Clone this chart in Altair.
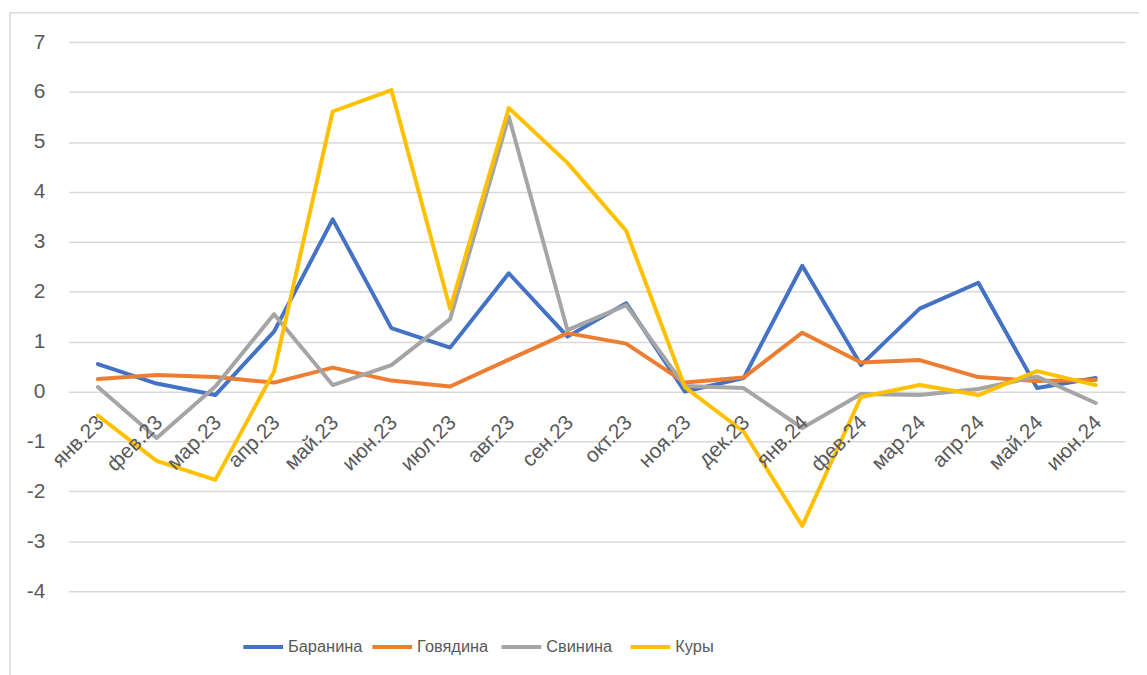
import altair as alt
import pandas as pd

months = ["янв.23", "фев.23", "мар.23", "апр.23", "май.23", "июн.23", "июл.23",
          "авг.23", "сен.23", "окт.23", "ноя.23", "дек.23", "янв.24", "фев.24",
          "мар.24", "апр.24", "май.24", "июн.24"]

series_names = ["Баранина", "Говядина", "Свинина", "Куры"]
colors = ["#4472C4", "#ED7D31", "#A5A5A5", "#FFC000"]

baranina = [0.55, 0.16, -0.07, 1.2, 3.45, 1.27, 0.88, 2.37, 1.1, 1.77,
            0.0, 0.27, 2.52, 0.53, 1.66, 2.18, 0.07, 0.27]
govyadina = [0.25, 0.33, 0.29, 0.18, 0.48, 0.22, 0.10, 0.64, 1.17, 0.96,
             0.18, 0.28, 1.18, 0.58, 0.63, 0.29, 0.21, 0.23]
svinina = [0.09, -0.93, 0.1, 1.55, 0.13, 0.53, 1.45, 5.51, 1.23, 1.73,
           0.11, 0.07, -0.73, -0.05, -0.07, 0.05, 0.3, -0.23]
kury = [-0.48, -1.39, -1.77, 0.4, 5.61, 6.04, 1.66, 5.68, 4.58, 3.22,
        0.09, -0.8, -2.69, -0.11, 0.13, -0.07, 0.41, 0.13]

y_ticks = [-4, -3, -2, -1, 0, 1, 2, 3, 4, 5, 6, 7]

rows = []
for name, vals in zip(series_names, [baranina, govyadina, svinina, kury]):
    for i, (m, v) in enumerate(zip(months, vals)):
        rows.append({"month": m, "series": name, "value": v, "order": i})
df = pd.DataFrame(rows)
lab_df = pd.DataFrame({"month": months})

FONT = "Liberation Sans"
TXT = "#595959"
GRID = "#D9D9D9"

W, H = 1064, 553

xenc = alt.X("month:O", sort=months, axis=None, scale=alt.Scale(padding=0.5))
yscale = alt.Scale(domain=[-4, 7], nice=False, zero=False)

lines = alt.Chart(df).mark_line(strokeWidth=4, strokeCap="round", strokeJoin="round").encode(
    x=xenc,
    y=alt.Y("value:Q", scale=yscale, title=None,
            axis=alt.Axis(values=y_ticks, grid=True, gridColor=GRID, gridWidth=1.5,
                          domain=False, ticks=False, labelPadding=24,
                          labelExpr="datum.value < 0 ? '-' + abs(datum.value) : '' + datum.value",
                          labelFont=FONT, labelFontSize=21, labelColor=TXT)),
    color=alt.Color("series:N", sort=series_names,
                    scale=alt.Scale(domain=series_names, range=colors),
                    legend=alt.Legend(title=None, orient="none", direction="horizontal",
                                      legendX=174, legendY=587, gridAlign="all",
                                      symbolType="stroke", symbolSize=1600,
                                      symbolStrokeWidth=4, labelOffset=3,
                                      columnPadding=2, labelFont=FONT,
                                      labelFontSize=16.5, labelColor=TXT)),
    order=alt.Order("order:Q"),
)

labels = alt.Chart(lab_df).mark_text(
    angle=315, align="right", baseline="middle", font=FONT, fontSize=21,
    color=TXT, dx=-18, dy=22
).encode(
    x=alt.X("month:O", sort=months, axis=None, scale=alt.Scale(padding=0.5)),
    y=alt.datum(0, scale=yscale),
    text="month:N",
)

border_top = alt.Chart(lab_df.head(1)).mark_rule(color=GRID, strokeWidth=1.5).encode(
    x=alt.value(-59), x2=alt.value(1080), y=alt.value(-29.5)
)
border_left = alt.Chart(lab_df.head(1)).mark_rule(color=GRID, strokeWidth=1.5).encode(
    x=alt.value(-59), y=alt.value(-30), y2=alt.value(640)
)

chart = alt.layer(border_top, border_left, lines, labels).properties(
    width=W, height=H,
    autosize=alt.AutoSizeParams(type="none"),
    padding={"left": 61, "top": 32, "right": 14, "bottom": 82},
).configure_view(stroke=None)

chart.save("out.html", embed_options={"renderer": "svg", "actions": False})
